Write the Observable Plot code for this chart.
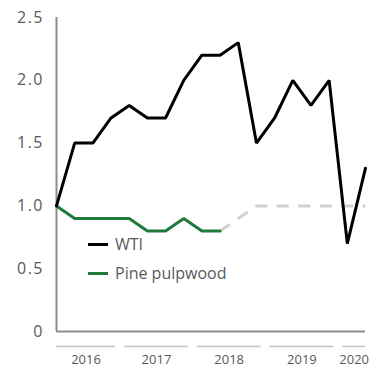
<!DOCTYPE html>
<html>
<head>
<meta charset="utf-8">
<script src="https://cdn.jsdelivr.net/npm/d3@7"></script>
<script src="https://cdn.jsdelivr.net/npm/@observablehq/plot@0.6"></script>
<style>
  html, body { margin: 0; padding: 0; background: #fff; }
  #chart { position: relative; width: 373px; height: 376px; font-family: "Open Sans", sans-serif; }
  #chart svg g[aria-label="y-axis tick label"] text { letter-spacing: 1.5px; }
  .legend { position: absolute; left: 88px; top: 232px; color: #595959; font-size: 16px; }
  .legend .item { display: flex; align-items: center; height: 24px; margin-bottom: 5px; }
  .legend .swatch { width: 20px; height: 3px; margin-right: 7px; }
</style>
</head>
<body>
<div id="chart"></div>
<script>
// Quarterly index values, Q1 2016 = 1.0
const periods = [
  "2016 Q1", "2016 Q2", "2016 Q3", "2016 Q4",
  "2017 Q1", "2017 Q2", "2017 Q3", "2017 Q4",
  "2018 Q1", "2018 Q2", "2018 Q3", "2018 Q4",
  "2019 Q1", "2019 Q2", "2019 Q3", "2019 Q4",
  "2020 Q1", "2020 Q2"
];
const wti = [1.0, 1.5, 1.5, 1.7, 1.8, 1.7, 1.7, 2.0, 2.2, 2.2, 2.3, 1.5, 1.7, 2.0, 1.8, 2.0, 0.7, 1.3];
const pinePulpwood = [1.0, 0.9, 0.9, 0.9, 0.9, 0.8, 0.8, 0.9, 0.8, 0.8];
// Dashed continuation of the pulpwood series
const pineProjection = [null, null, null, null, null, null, null, null, null, 0.8, 0.9, 1.0, 1.0, 1.0, 1.0, 1.0, 1.0, 1.0];
const yTicks = [0, 0.5, 1.0, 1.5, 2.0, 2.5];

const seriesColors = { "WTI": "#000000", "Pine pulpwood": "#217a3c" };

const last = periods.length - 1;
const rows = periods.map((p, i) => ({ i, period: p, year: p.slice(0, 4) }));
const wtiRows = rows.map(r => ({ ...r, value: wti[r.i] }));
const pineRows = pinePulpwood.map((v, i) => ({ ...rows[i], value: v }));
const projRows = rows
  .map(r => ({ ...r, value: pineProjection[r.i] }))
  .filter(r => r.value != null);

// Year groups for the outer category axis
const yearSpans = d3.groups(rows, r => r.year).map(([year, rs]) => {
  const first = rs[0].i, lastI = rs[rs.length - 1].i;
  return {
    year,
    x1: first === 0 ? 0 : first - 0.25,
    x2: lastI === last ? last : lastI + 0.25
  };
});

const axisGray = "#8c8c8c";
const textGray = "#595959";

const plot = Plot.plot({
  width: 373,
  height: 376,
  marginLeft: 56,
  marginRight: 8,
  marginTop: 17,
  marginBottom: 45,
  style: { fontFamily: "'Open Sans', sans-serif", color: textGray, background: "#fff" },
  x: { domain: [0, last], axis: null },
  y: { domain: [0, 2.5] },
  marks: [
    Plot.axisY(yTicks, {
      tickSize: 0,
      tickPadding: 12.5,
      fontSize: 16,
      fill: textGray,
      tickFormat: d => d === 0 ? "0" : d.toFixed(1),
      label: null
    }),
    Plot.ruleX([0], { stroke: axisGray, strokeWidth: 2 }),
    Plot.ruleY([0], { stroke: axisGray, strokeWidth: 2 }),
    Plot.ruleY(yearSpans, { y: 0, x1: "x1", x2: "x2", dy: 15, stroke: "#c4c4c4", strokeWidth: 1.5 }),
    Plot.text(yearSpans, {
      x: d => (d.x1 + d.x2) / 2,
      text: "year",
      frameAnchor: "bottom",
      dy: 32,
      fontSize: 13,
      fill: textGray
    }),
    Plot.line(projRows, {
      x: "i", y: "value",
      stroke: "#d0d0d0", strokeWidth: 3,
      strokeDasharray: "12,9.5", strokeLinecap: "butt"
    }),
    Plot.line(pineRows, { x: "i", y: "value", stroke: seriesColors["Pine pulpwood"], strokeWidth: 3, strokeLinejoin: "miter" }),
    Plot.line(wtiRows, { x: "i", y: "value", stroke: seriesColors["WTI"], strokeWidth: 3, strokeLinejoin: "miter" })
  ]
});

const chart = document.getElementById("chart");
chart.appendChild(plot);

const legend = document.createElement("div");
legend.className = "legend";
for (const [name, color] of Object.entries(seriesColors)) {
  const item = document.createElement("div");
  item.className = "item";
  const sw = document.createElement("span");
  sw.className = "swatch";
  sw.style.background = color;
  const label = document.createElement("span");
  label.textContent = name;
  item.append(sw, label);
  legend.appendChild(item);
}
chart.appendChild(legend);
</script>
</body>
</html>
